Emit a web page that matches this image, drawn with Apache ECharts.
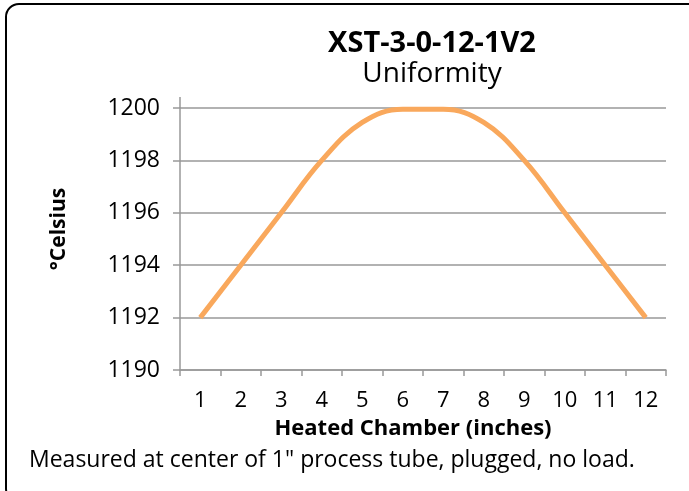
<!DOCTYPE html>
<html>
<head>
<meta charset="utf-8">
<script src="https://cdn.jsdelivr.net/npm/echarts@6/dist/echarts.min.js"></script>
<style>
  html, body { margin: 0; padding: 0; background: #fff; }
  #frame {
    position: absolute; left: 5px; top: 3px; width: 700px; height: 500px;
    border: 2px solid #000; border-radius: 14px; box-sizing: border-box;
  }
  #chart { position: absolute; left: 0; top: 0; width: 689px; height: 491px; }
</style>
</head>
<body>
<div id="frame"></div>
<div id="chart"></div>
<script>
// data
const inches = ["1", "2", "3", "4", "5", "6", "7", "8", "9", "10", "11", "12"];
const celsius = [1192, 1194, 1196, 1198, 1199.45, 1199.95, 1199.95, 1199.45, 1198, 1196, 1194, 1192];
const yTicks = { min: 1190, max: 1200, step: 2 };

const font = "'Open Sans', sans-serif";
const myChart = echarts.init(document.getElementById("chart"));
const option = {
  backgroundColor: "transparent",
  title: {
    text: "XST-3-0-12-1V2",
    subtext: "Uniformity",
    left: 427,
    textAlign: "center",
    top: 24,
    itemGap: 2,
    textStyle: { fontFamily: font, fontWeight: "bold", fontSize: 29, color: "#000" },
    subtextStyle: { fontFamily: font, fontSize: 28, color: "#000" },
  },
  grid: { left: 180, right: 23, top: 108, bottom: 121 },
  xAxis: {
    type: "category",
    data: inches,
    boundaryGap: true,
    name: "Heated Chamber (inches)",
    nameLocation: "middle",
    nameGap: 48,
    nameTextStyle: {
      fontFamily: font, fontWeight: "bold", fontSize: 22, color: "#000",
      padding: [0, 20, 0, 0],
    },
    axisLine: { lineStyle: { color: "#999", width: 1.5 } },
    axisTick: { show: true, length: 6, lineStyle: { color: "#999", width: 1.5 } },
    axisLabel: { fontFamily: font, fontSize: 22, color: "#000", margin: 20 },
    splitLine: { show: false },
  },
  yAxis: {
    type: "value",
    min: yTicks.min,
    max: yTicks.max,
    interval: yTicks.step,
    name: "°Celsius",
    nameLocation: "middle",
    nameGap: 110,
    nameRotate: 90,
    nameTextStyle: {
      fontFamily: font, fontWeight: "bold", fontSize: 21, color: "#000",
      padding: [0, 0, 0, 20],
    },
    axisLine: { show: true, lineStyle: { color: "#999", width: 1.5 } },
    axisTick: { show: true, length: 7, lineStyle: { color: "#999", width: 1.5 } },
    axisLabel: {
      fontFamily: font, fontSize: 23, color: "#000", margin: 20,
      formatter: (v) => String(v),
    },
    splitLine: { show: true, lineStyle: { color: "#999", width: 1.5 } },
  },
  graphic: [
    {
      type: "line",
      shape: { x1: 180, y1: 97, x2: 180, y2: 108 },
      style: { stroke: "#999", lineWidth: 1.5 },
    },
    {
      type: "text",
      left: 29,
      top: 449,
      style: {
        text: 'Measured at center of 1" process tube, plugged, no load.',
        font: "23px " + font,
        fill: "#000",
      },
    },
  ],
  series: [
    {
      type: "line",
      data: celsius,
      smooth: 0.4,
      symbol: "none",
      lineStyle: { color: "#F9A85C", width: 5 },
    },
  ],
};
myChart.setOption(option);
</script>
</body>
</html>
